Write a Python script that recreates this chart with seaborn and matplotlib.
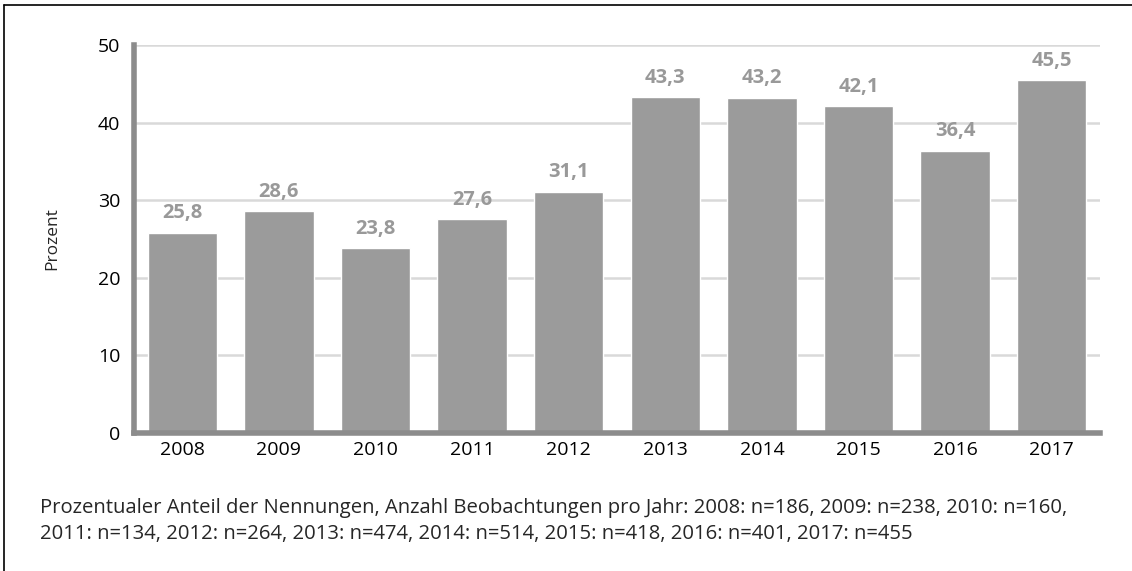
import matplotlib
matplotlib.use('Agg')
import matplotlib.pyplot as plt
import seaborn as sns
import pandas as pd
from matplotlib.lines import Line2D

years = ['2008', '2009', '2010', '2011', '2012', '2013', '2014', '2015', '2016', '2017']
values = [25.8, 28.6, 23.8, 27.6, 31.1, 43.3, 43.2, 42.1, 36.4, 45.5]
caption = ('Prozentualer Anteil der Nennungen, Anzahl Beobachtungen pro Jahr: 2008: n=186, 2009: n=238, 2010: n=160,\n'
           '2011: n=134, 2012: n=264, 2013: n=474, 2014: n=514, 2015: n=418, 2016: n=401, 2017: n=455')

data = pd.DataFrame({'Jahr': years, 'Prozent': values})

sns.set_style('white')
plt.rcParams['font.family'] = ['Open Sans', 'DejaVu Sans']

fig = plt.figure(figsize=(11.32, 5.71), dpi=100)
ax = fig.add_axes([134 / 1132, 1 - 433 / 571, (1100 - 134) / 1132, (433 - 45) / 571])

sns.barplot(x='Jahr', y='Prozent', data=data, color='#9b9b9b', saturation=1, width=0.72, ax=ax, zorder=3)

ax.set_ylim(0, 50)
ax.set_xlim(-0.5, 9.5)
ax.set_yticks([0, 10, 20, 30, 40, 50])
ax.yaxis.grid(True, color='#d9d9d9', linewidth=1.8, zorder=0)
ax.set_axisbelow(True)

for s in ['top', 'right']:
    ax.spines[s].set_visible(False)
for s in ['left', 'bottom']:
    ax.spines[s].set_color('#8c8c8c')
    ax.spines[s].set_linewidth(4)
    ax.spines[s].set_zorder(4)

ax.tick_params(axis='both', length=0, labelsize=14, colors='black')
ax.tick_params(axis='y', pad=10)
ax.tick_params(axis='x', pad=6)
ax.set_xlabel('')
ax.set_ylabel('Prozent', fontsize=12.5)
ax.yaxis.set_label_coords(-0.076, 0.5)

for i, v in enumerate(values):
    ax.text(i, v + 1.2, f'{v:.1f}'.replace('.', ','), ha='center', va='bottom',
            fontsize=14.5, fontweight='bold', color='#999999')

fig.text(40 / 1132, 1 - 521 / 571, caption, fontsize=14.6, va='center', ha='left', linespacing=1.35)

fig.add_artist(Line2D([4 / 1132, 4 / 1132], [0, 1 - 5 / 571], color='black', linewidth=1.2))
fig.add_artist(Line2D([4 / 1132, 1], [1 - 5 / 571, 1 - 5 / 571], color='black', linewidth=1.2))

fig.savefig('out.png', dpi=100)
